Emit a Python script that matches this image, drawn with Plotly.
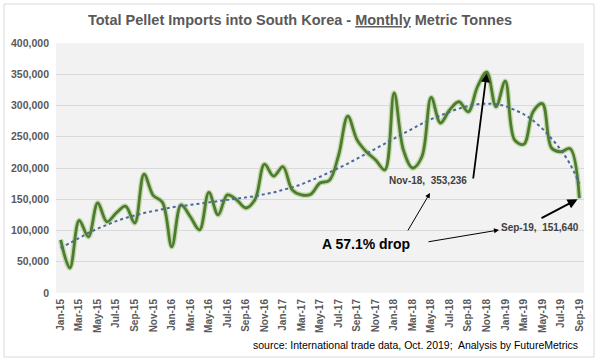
import plotly.graph_objects as go

months = ["Jan-15","Feb-15","Mar-15","Apr-15","May-15","Jun-15","Jul-15","Aug-15","Sep-15","Oct-15","Nov-15","Dec-15",
          "Jan-16","Feb-16","Mar-16","Apr-16","May-16","Jun-16","Jul-16","Aug-16","Sep-16","Oct-16","Nov-16","Dec-16",
          "Jan-17","Feb-17","Mar-17","Apr-17","May-17","Jun-17","Jul-17","Aug-17","Sep-17","Oct-17","Nov-17","Dec-17",
          "Jan-18","Feb-18","Mar-18","Apr-18","May-18","Jun-18","Jul-18","Aug-18","Sep-18","Oct-18","Nov-18","Dec-18",
          "Jan-19","Feb-19","Mar-19","Apr-19","May-19","Jun-19","Jul-19","Aug-19","Sep-19"]

imports = [85000, 40000, 116000, 90000, 144000, 114000, 128000, 139000, 112000, 190000, 156000, 145000,
           74000, 141000, 122000, 101000, 161000, 125000, 157000, 149000, 136000, 150000, 206000, 187000,
           202000, 165000, 157000, 158000, 176000, 180000, 220000, 283000, 245000, 226000, 213000, 197000,
           320000, 229000, 200000, 218000, 313000, 272000, 293000, 306000, 290000, 330000, 353236, 298000,
           339000, 245000, 238000, 290000, 303000, 232000, 226000, 231000, 151640]

trend = [72000, 80000, 88000, 96000, 103000, 109000, 115000, 120000, 124000, 128000, 131000, 134000,
         137000, 139000, 141000, 143000, 145000, 147000, 149000, 151000, 153000, 155000, 158000, 161000,
         165000, 169000, 174000, 180000, 186000, 193000, 200000, 207000, 215000, 223000, 231000, 239000,
         247000, 255000, 263000, 271000, 278000, 284000, 290000, 295000, 299000, 302000, 303000, 302000,
         299000, 293000, 286000, 276000, 263000, 247000, 229000, 206000, 175000]

y_ticks = [0, 50000, 100000, 150000, 200000, 250000, 300000, 350000, 400000]

x_idx = list(range(len(months)))
tick_idx = x_idx[::2]
tick_lab = months[::2]

FONT = "Liberation Sans, Arial, sans-serif"

fig = go.Figure()
fig.add_trace(go.Scatter(x=x_idx, y=imports, mode="lines",
                         line=dict(color="#c4d9ae", width=5.5, shape="spline", smoothing=1.0),
                         hoverinfo="skip", showlegend=False))
fig.add_trace(go.Scatter(x=x_idx, y=imports, mode="lines",
                         line=dict(color="#4e7c2e", width=2.8, shape="spline", smoothing=1.0),
                         name="Imports", showlegend=False))
fig.add_trace(go.Scatter(x=x_idx, y=trend, mode="lines",
                         line=dict(color="#4a6a9c", width=2, dash="dot", shape="spline"),
                         name="Trend", showlegend=False))

L, R, T, B = 56, 16, 43, 71
W, H = 600, 364
pw, ph = W - L - R, H - T - B
XMIN, XMAX = -0.5, len(months) - 0.5
YMAX = 400000

def px(x):
    return (x - L) / pw

def py(y):
    return (H - B - y) / ph

def dx(x):
    return XMIN + (x - L) / pw * (XMAX - XMIN)

def dy(y):
    return (H - B - y) / ph * YMAX

fig.update_layout(
    width=W, height=H,
    margin=dict(l=L, r=R, t=T, b=B, autoexpand=False),
    paper_bgcolor="white",
    plot_bgcolor="#f2f2f2",
    font=dict(family=FONT, color="#595959"),
    title=dict(text="<b>Total Pellet Imports into South Korea - <u>Monthly</u> Metric Tonnes</b>",
               x=0.5, xref="container", xanchor="center", y=1 - 20 / H, yanchor="middle",
               font=dict(size=14.5, color="#595959", family=FONT)),
    xaxis=dict(range=[XMIN, XMAX], tickmode="array", tickvals=tick_idx, ticktext=tick_lab,
               tickangle=-90, tickfont=dict(size=10, color="#595959", weight="bold"), showgrid=False,
               zeroline=False, showline=False, ticks="", automargin=False, ticklabelstandoff=3),
    yaxis=dict(range=[0, YMAX], tickmode="array", tickvals=y_ticks,
               ticktext=[f"{v:,}" for v in y_ticks], tickfont=dict(size=10.5, color="#595959", weight="bold"),
               showgrid=True, gridcolor="#d9d9d9", gridwidth=1, zeroline=False, showline=False, ticks="",
               automargin=False, ticklabelstandoff=6),
)

fig.add_shape(type="rect", xref="paper", yref="paper",
              x0=px(4), x1=px(594), y0=py(357), y1=py(4),
              line=dict(color="#d9d9d9", width=1), fillcolor="rgba(0,0,0,0)", layer="below")

texts = [
    dict(x=428, y=180, text="<b>Nov-18,  353,236</b>", size=10, color="#404040"),
    dict(x=540, y=227, text="<b>Sep-19,  151,640</b>", size=10, color="#404040"),
    dict(x=366, y=244, text="<b>A 57.1% drop</b>", size=14, color="#000000"),
    dict(x=415, y=345, text="source: International trade data, Oct. 2019;  Analysis by FutureMetrics", size=10.5, color="#000000"),
]
for t in texts:
    fig.add_annotation(x=px(t["x"]), y=py(t["y"]), xref="paper", yref="paper", text=t["text"], showarrow=False,
                       font=dict(size=t["size"], color=t["color"], family=FONT),
                       xanchor="center", yanchor="middle")

def arrow(x0, y0, x1, y1, width, xd=None, yd=None, standoff=0):
    tx = xd if xd is not None else dx(x1)
    ty = yd if yd is not None else dy(y1)
    fig.add_annotation(x=tx, y=ty, xref="x", yref="y", ax=dx(x0), ay=dy(y0), axref="x", ayref="y",
                       showarrow=True, arrowhead=2, arrowsize=1, arrowwidth=width, arrowcolor="black",
                       text="", standoff=standoff)

# Nov-18 label -> peak
arrow(473, 180, None, None, 1.8, xd=46, yd=imports[46], standoff=1)
# Sep-19 label -> last point
arrow(540, 219, None, None, 2, xd=56, yd=imports[56], standoff=2)
# drop text -> Sep-19 label
arrow(427, 242, 499, 230, 1)
# drop text -> Nov-18 label
arrow(407, 232, 430, 193, 1)

fig.write_html("out.html", config={"displayModeBar": False},
               post_script="document.body.style.margin='0';document.body.style.overflow='hidden';")
